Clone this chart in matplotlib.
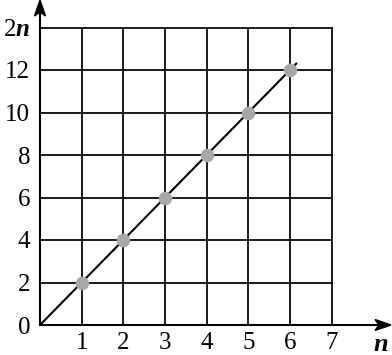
import matplotlib.pyplot as plt
from matplotlib.patches import Polygon

plt.rcParams['font.family'] = 'Liberation Serif'
plt.rcParams['mathtext.fontset'] = 'custom'
plt.rcParams['mathtext.rm'] = 'Liberation Serif'
plt.rcParams['mathtext.bfit'] = 'Liberation Serif:italic:bold'

# data
n_vals = [1, 2, 3, 4, 5, 6]
two_n = [2, 4, 6, 8, 10, 12]
line_n = [0, 6.15]
line_y = [0, 12.3]
x_ticks = [1, 2, 3, 4, 5, 6, 7]
y_ticks = [0, 2, 4, 6, 8, 10, 12, 14]
y_labels = ['0', '2', '4', '6', '8', '10', '12', r'$2\mathbfit{n}$']

W, H = 392, 355
fig = plt.figure(figsize=(W / 100, H / 100), dpi=100)
ax = fig.add_axes([40 / W, 30 / H, 291.7 / W, 297.5 / H])
ax.set_xlim(0, 7)
ax.set_ylim(0, 14)

# grid
for x in range(1, 8):
    ax.plot([x, x], [0, 14], color='#1a1a1a', lw=1.4, clip_on=False, zorder=1)
for y in range(2, 15, 2):
    ax.plot([0, 7], [y, y], color='#1a1a1a', lw=1.4, clip_on=False, zorder=1)

# axes lines
ax.plot([0, 8.2], [0, 0], color='black', lw=1.5, clip_on=False, zorder=1)
ax.plot([0, 0], [0, 15.0], color='black', lw=1.5, clip_on=False, zorder=1)

# line and points
ax.plot(line_n, line_y, color='black', lw=1.5, zorder=2)
ax.scatter(n_vals, two_n, s=95, color='#a8a8a8', zorder=3, linewidths=0)

# arrow heads (stealth), pixel positions
def px(pts):
    return [(a / W, b / H) for a, b in pts]

fig.patches.append(Polygon(px([(391, 30), (375, 35.5), (379, 30), (375, 24.5)]),
                           closed=True, color='black', transform=fig.transFigure))
fig.patches.append(Polygon(px([(40, 355), (34.5, 339), (40, 343), (45.5, 339)]),
                           closed=True, color='black', transform=fig.transFigure))
fig.text(381 / W, 10 / H, r'$\mathbfit{n}$', fontsize=19, ha='center', va='center')

for s in ax.spines.values():
    s.set_visible(False)
ax.set_xticks(x_ticks)
ax.set_xticklabels([str(t) for t in x_ticks])
ax.set_yticks(y_ticks)
ax.set_yticklabels(y_labels)
ax.tick_params(length=0, labelsize=18)
ax.tick_params(axis='y', pad=7)
ax.tick_params(axis='x', pad=5)

fig.savefig('out.png', dpi=100)
